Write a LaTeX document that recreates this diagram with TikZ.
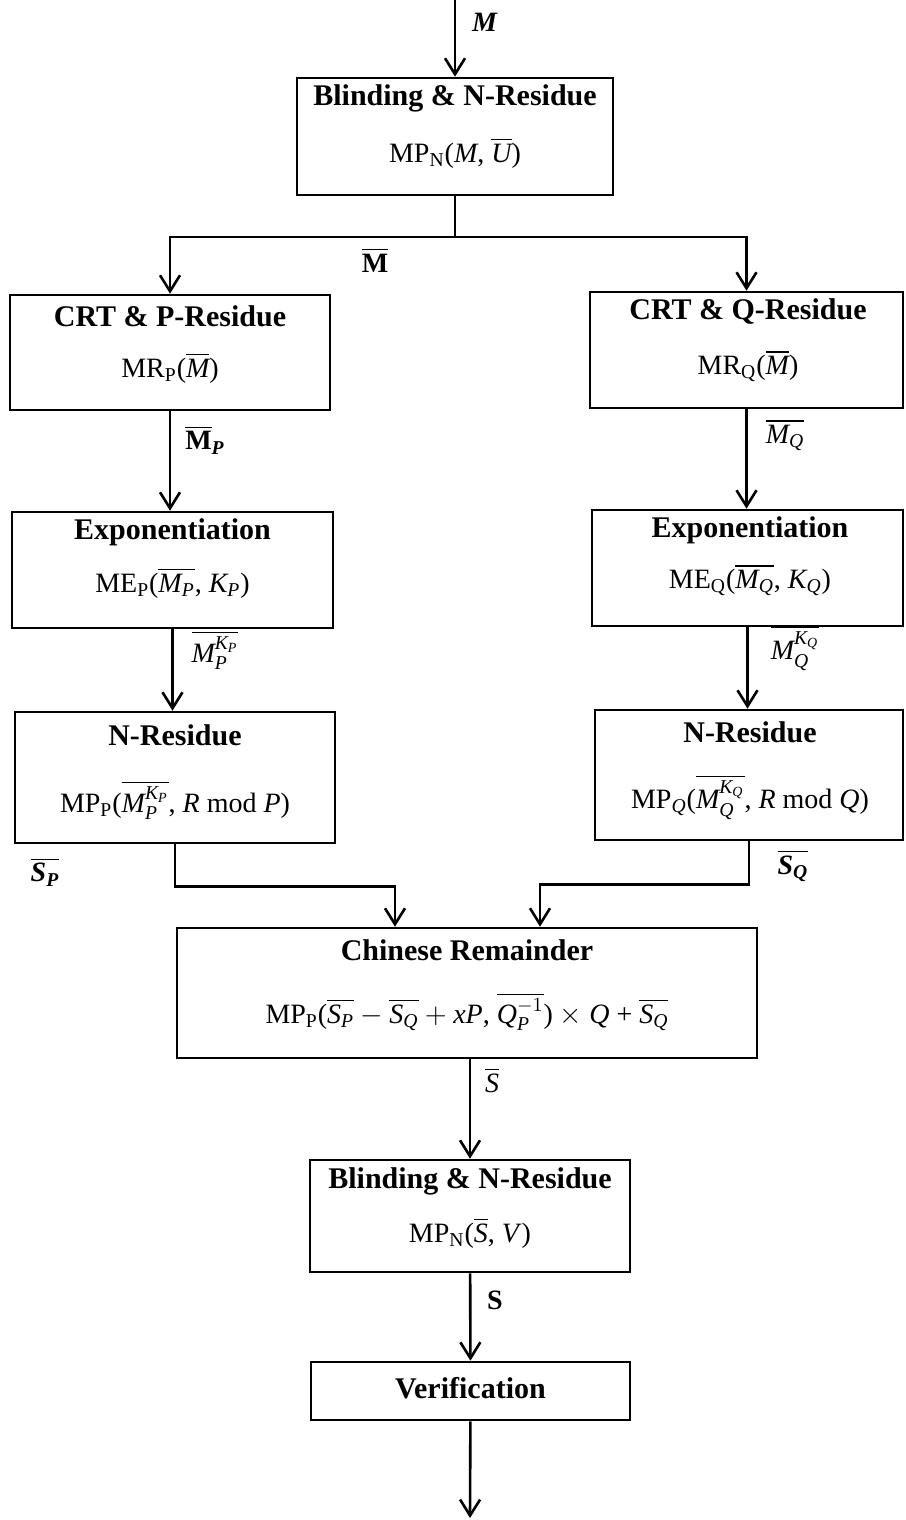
\documentclass[tikz,border=0pt]{standalone}
\usepackage{fontspec}
\setmainfont{Liberation Serif}
\usepackage{amsmath}
\usetikzlibrary{arrows.meta, positioning}

\newcommand{\tv}[1]{\text{\itshape #1}}
\newcommand{\tbv}[1]{\text{\bfseries\itshape #1}}
\newcommand{\sbs}[1]{$_{\text{#1}}$}

\begin{document}
\begin{tikzpicture}[
    x=0.5pt, y=-0.5pt,
    box/.style={rectangle, draw, line width=1.3pt, inner sep=0pt},
    ttl/.style={font=\fontsize{15}{18}\selectfont\bfseries},
    fml/.style={font=\fontsize{14}{17}\selectfont},
    lbl/.style={font=\fontsize{14}{17}\selectfont},
    arrow/.style={-{Straight Barb[length=8pt, width=10pt]}, line width=1.3pt},
    line/.style={line width=1.3pt}
]
    \useasboundingbox (0,0) rectangle (905,1520);

    % Input blinding
    \node[box, minimum width=158pt, minimum height=58.5pt] (blind1) at (455,136.5) {};
    \node[ttl] (blind1t) at (455,98) {Blinding \& N-Residue};
    \node[fml] (blind1f) at (455,153) {MP\sbs{N}(\textit{M}, $\overline{\tv{U}}$)};

    % P branch
    \node[box, minimum width=160pt, minimum height=57.5pt] (crtp) at (170,352.5) {};
    \node[ttl] (crtpt) at (170,316) {CRT \& P-Residue};
    \node[fml] (crtpf) at (170,368) {MR\sbs{P}($\overline{\tv{M}}$)};

    \node[box, minimum width=160.5pt, minimum height=58pt] (expp) at (172.5,570) {};
    \node[ttl] (exppt) at (172.5,532) {Exponentiation};
    \node[fml] (exppf) at (172.5,583) {ME\sbs{P}($\overline{\tv{M}_{\tv{P}}}$, $\tv{K}_{\tv{P}}$)};

    \node[box, minimum width=160pt, minimum height=65.5pt] (nresp) at (175,777.5) {};
    \node[ttl] (nrespt) at (175,735) {N-Residue};
    \node[fml] (nrespf) at (175,800) {MP\sbs{P}($\overline{\tv{M}_{\tv{P}}^{\tv{K}_{\tv{P}}}}$, \textit{R} mod \textit{P})};

    % Q branch
    \node[box, minimum width=156.5pt, minimum height=58pt] (crtq) at (746.5,350) {};
    \node[ttl] (crtqt) at (748,312) {CRT \& Q-Residue};
    \node[fml] (crtqf) at (748,366) {MR\sbs{Q}($\overline{\tv{M}}$)};

    \node[box, minimum width=155.5pt, minimum height=58pt] (expq) at (747.5,568) {};
    \node[ttl] (expqt) at (750,530) {Exponentiation};
    \node[fml] (expqf) at (750,580) {ME\sbs{Q}($\overline{\tv{M}_{\tv{Q}}}$, $\tv{K}_{\tv{Q}}$)};

    \node[box, minimum width=154pt, minimum height=65pt] (nresq) at (749,775) {};
    \node[ttl] (nresqt) at (750,732) {N-Residue};
    \node[fml] (nresqf) at (750,797) {MP$_{\tv{Q}}$($\overline{\tv{M}_{\tv{Q}}^{\tv{K}_{\tv{Q}}}}$, \textit{R} mod \textit{Q})};

    % Recombination
    \node[box, minimum width=290pt, minimum height=65pt] (chin) at (467,993) {};
    \node[ttl] (chint) at (467,950) {Chinese Remainder};
    \node[fml] (chinf) at (467,1012) {MP\sbs{P}($\overline{\tv{S}_{\tv{P}}} - \overline{\tv{S}_{\tv{Q}}} + \tv{x}\tv{P}$, $\overline{\tv{Q}_{\tv{P}}^{-1}}$) $\times$ \textit{Q} + $\overline{\tv{S}_{\tv{Q}}}$};

    \node[box, minimum width=160pt, minimum height=56pt] (blind2) at (470,1216) {};
    \node[ttl] (blind2t) at (470,1181) {Blinding \& N-Residue};
    \node[fml] (blind2f) at (470,1233) {MP\sbs{N}($\overline{\tv{S}}$, \textit{V})};

    \node[box, minimum width=159.5pt, minimum height=29pt] (verif) at (470.5,1391) {};
    \node[ttl] (verift) at (470.5,1388) {Verification};

    % Connectors
    \coordinate (msgin) at (455,0);
    \coordinate (split) at (455,237);
    \coordinate (sigout) at (470,1518);

    \draw[arrow] (msgin) -- (blind1);
    \draw[line] (blind1) -- (split);
    \draw[arrow] (split) -| (crtp.north);
    \draw[arrow] (split) -| (crtq.north);

    \draw[arrow] (crtp) -- (crtp |- expp.north);
    \draw[arrow] (expp) -- (expp |- nresp.north);
    \draw[arrow] (crtq) -- (crtq |- expq.north);
    \draw[arrow] (expq) -- (expq |- nresq.north);

    \draw[arrow] (nresp.south) -- ++(0,42) -| ([xshift=-36pt]chin.north);
    \draw[arrow] (nresq.south) -- ++(0,43) -| ([xshift=36.5pt]chin.north);

    \draw[arrow] (chin) -- (chin.south -| blind2.north) -- (blind2.north);
    \draw[arrow] (blind2) -- (verif);
    \draw[arrow] (verif) -- (sigout);

    % Edge labels
    \node[lbl] (lm) at (485,22) {\textbf{\textit{M}}};
    \node[lbl] (lmbar) at (375,260) {$\overline{\text{\bfseries M}}$};
    \node[lbl] (lmp) at (205,440) {$\overline{\text{\bfseries M}}_{\tbv{P}}$};
    \node[lbl] (lmq) at (785,435) {$\overline{\tv{M}_{\tv{Q}}}$};
    \node[lbl] (lmpk) at (215,650) {$\overline{\tv{M}_{\tv{P}}^{\tv{K}_{\tv{P}}}}$};
    \node[lbl] (lmqk) at (795,648) {$\overline{\tv{M}_{\tv{Q}}^{\tv{K}_{\tv{Q}}}}$};
    \node[lbl] (lsp) at (45,872) {$\overline{\tbv{S}_{\tbv{P}}}$};
    \node[lbl] (lsq) at (793,866) {$\overline{\tbv{S}_{\tbv{Q}}}$};
    \node[lbl] (lsbar) at (492,1080) {$\overline{\tv{S}}$};
    \node[lbl] (ls) at (495,1300) {\textbf{S}};
\end{tikzpicture}
\end{document}
